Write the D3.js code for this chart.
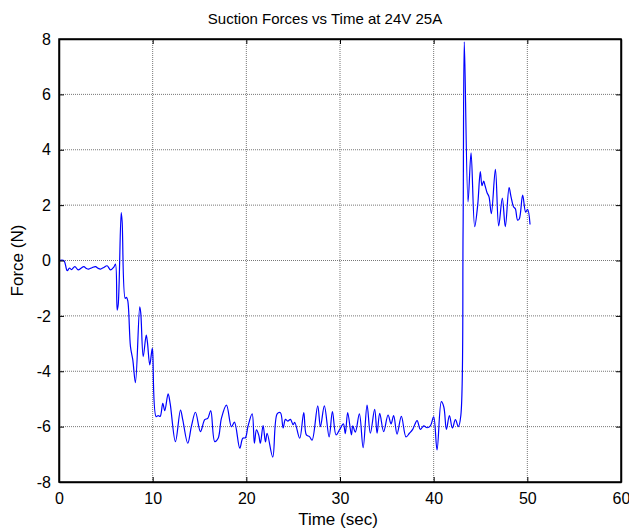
<!DOCTYPE html>
<html>
<head>
<meta charset="utf-8">
<script src="https://cdn.jsdelivr.net/npm/d3@7"></script>
<style>
  body { margin: 0; background: #fff; }
  svg text { font-family: "Liberation Sans", Arial, sans-serif; fill: #000; }
</style>
</head>
<body>
<div id="chart"></div>
<script>
// data (time in sec, force in N)
var times = [0, 0.51, 0.88, 1.12, 1.33, 1.69, 2.05, 2.35, 2.65, 2.93, 3.18, 3.52, 3.9, 4.16, 4.43, 4.78, 5.14, 5.5, 5.85, 6.03,
  6.21, 6.32, 6.64, 6.74, 7.07, 7.2, 7.34, 7.63, 7.88, 8.16, 8.62, 8.73, 8.99, 9.31, 9.44, 9.69, 9.95, 10.01,
  10.37, 10.59, 10.8, 11.08, 11.29, 11.65, 11.87, 12.43, 12.97, 13.21, 13.75, 14.14, 14.57, 15.1, 15.56, 15.88,
  16.2, 16.63, 16.99, 17.34, 17.88, 18.41, 18.73, 19.3, 19.62, 19.9, 20.17, 20.62, 20.86, 21.08, 21.32, 21.5,
  21.79, 22.04, 22.22, 22.82, 23.29, 23.64, 23.93, 24.17, 24.42, 24.71, 25.0, 25.17, 25.7, 26.13, 26.41, 26.74,
  27.02, 27.62, 27.91, 28.33, 28.84, 29.19, 29.58, 29.97, 30.36, 30.57, 30.82, 31.22, 31.36, 31.64, 32.07, 32.47,
  32.89, 33.24, 33.7, 33.96, 34.24, 34.66, 35.13, 35.45, 35.73, 36.09, 36.55, 37.05, 37.41, 37.76, 38.23, 38.58,
  38.93, 39.3, 39.65, 40.0, 40.36, 40.82, 41.09, 41.36, 41.68, 42.0, 42.32, 42.64, 42.9, 43.14, 43.27, 43.67,
  43.99, 44.38, 44.7, 44.98, 45.16, 45.34, 45.49, 45.7, 45.91, 46.16, 46.59, 46.94, 47.33, 47.65, 48.05, 48.26,
  48.54, 48.72, 48.96, 49.14, 49.5, 49.82, 50.03, 50.29];
var forces = [0, 0, -0.37, -0.27, -0.33, -0.22, -0.34, -0.28, -0.22, -0.29, -0.31, -0.26, -0.22, -0.28, -0.31, -0.25, -0.19, -0.34, -0.24, -0.13,
  -1.79, -1.6, 1.73, 1.4, -1.37, -1.33, -1.45, -3.11, -3.59, -4.41, -1.67, -1.9, -3.47, -2.69, -2.95, -3.77, -3.17, -3.36,
  -5.64, -5.6, -5.63, -5.16, -5.42, -4.82, -5.17, -6.54, -5.4, -5.75, -6.6, -5.98, -5.48, -6.18, -5.75, -5.7,
  -5.42, -6.54, -6.42, -5.7, -5.22, -6.0, -5.84, -6.78, -6.42, -6.4, -6.0, -5.54, -6.6, -6.12, -6.3, -6.6,
  -5.96, -6.55, -6.24, -7.1, -5.54, -5.5, -6.05, -5.74, -5.8, -5.74, -5.93, -5.85, -6.42, -5.49, -6.3, -6.36,
  -6.49, -5.25, -6.0, -5.25, -6.37, -5.46, -6.3, -6.1, -5.9, -6.25, -5.49, -6.3, -5.97, -6.2, -5.54, -6.76,
  -5.22, -6.24, -5.38, -6.24, -5.52, -6.18, -5.58, -5.9, -5.6, -6.27, -5.63, -6.37, -6.24, -6.1, -5.78, -6.1,
  -5.97, -6.04, -5.97, -5.65, -6.84, -5.1, -5.3, -6.1, -5.6, -6.05, -5.75, -6.0, -5.6, 1.1, 7.9, 2.12,
  3.89, 1.22, 2.0, 3.21, 2.7, 2.87, 2.7, 2.45, 2.3, 1.69, 3.29, 1.25, 2.25, 1.22, 2.63, 2.3,
  1.93, 1.87, 1.46, 1.5, 2.36, 1.75, 1.85, 1.3];
var xTicks = [0, 10, 20, 30, 40, 50, 60];
var yTicks = [-8, -6, -4, -2, 0, 2, 4, 6, 8];

var margin = {top: 39, right: 8, bottom: 47, left: 59},
    width = 621 - margin.left,
    height = 482 - margin.top;

var svg = d3.select("#chart").append("svg")
    .attr("width", 629)
    .attr("height", 529)
  .append("g")
    .attr("transform", "translate(" + margin.left + "," + margin.top + ")");

var x = d3.scaleLinear().domain([0, 60]).range([0, width]);
var y = d3.scaleLinear().domain([-8, 8]).range([height, 0]);
var plain = d => String(d); // keep a hyphen minus, like the original

// dotted grid
svg.append("g").selectAll("line")
  .data(xTicks.slice(1, -1))
  .join("line")
  .attr("x1", d => x(d)).attr("x2", d => x(d))
  .attr("y1", 0).attr("y2", height)
  .attr("stroke", "#777").attr("stroke-width", 1)
  .attr("stroke-dasharray", "1,1");
svg.append("g").selectAll("line")
  .data(yTicks.slice(1, -1))
  .join("line")
  .attr("x1", 0).attr("x2", width)
  .attr("y1", d => y(d)).attr("y2", d => y(d))
  .attr("stroke", "#777").attr("stroke-width", 1)
  .attr("stroke-dasharray", "1,1");

// the force trace
var pts = times.map((t, i) => [t, forces[i]]);
svg.append("path")
  .datum(pts)
  .attr("fill", "none")
  .attr("stroke", "#0000ff")
  .attr("stroke-width", 1.2)
  .attr("d", d3.line()
    .x(d => x(d[0]))
    .y(d => y(d[1]))
    .curve(d3.curveCatmullRom.alpha(0.5)));

// axes with inward ticks on all four sides
var tl = 5;
svg.append("g")
  .attr("transform", "translate(0," + height + ")")
  .call(d3.axisBottom(x).tickValues(xTicks).tickFormat(plain).tickSize(-tl).tickPadding(tl + 6).tickSizeOuter(0))
  .call(g => g.selectAll("text").style("font-size", "16px"));
svg.append("g")
  .call(d3.axisTop(x).tickValues(xTicks).tickSize(-tl).tickFormat("").tickSizeOuter(0));
svg.append("g")
  .call(d3.axisLeft(y).tickValues(yTicks).tickFormat(plain).tickSize(-tl).tickPadding(tl + 3).tickSizeOuter(0))
  .call(g => g.selectAll("text").style("font-size", "16px"));
svg.append("g")
  .attr("transform", "translate(" + width + ",0)")
  .call(d3.axisRight(y).tickValues(yTicks).tickSize(-tl).tickFormat("").tickSizeOuter(0));
svg.selectAll(".domain").attr("stroke", "#000").attr("stroke-width", 1.5);
svg.selectAll(".tick line").attr("stroke", "#000");

// box
svg.append("rect")
  .attr("width", width).attr("height", height)
  .attr("fill", "none").attr("stroke", "#000").attr("stroke-width", 1.5);

// titles
svg.append("text")
  .attr("x", width / 2 - 15).attr("y", -15)
  .attr("text-anchor", "middle")
  .style("font-size", "15px")
  .text("Suction Forces vs Time at 24V 25A");
svg.append("text")
  .attr("x", width / 2 - 2).attr("y", height + 43)
  .attr("text-anchor", "middle")
  .style("font-size", "17px")
  .text("Time (sec)");
svg.append("text")
  .attr("transform", "rotate(-90)")
  .attr("x", -(y(0))).attr("y", -36)
  .attr("text-anchor", "middle")
  .style("font-size", "17px")
  .text("Force (N)");
</script>
</body>
</html>
